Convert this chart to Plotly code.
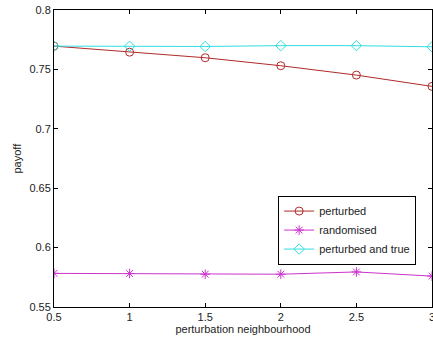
import plotly.graph_objects as go

x_vals = [0.5, 1, 1.5, 2, 2.5, 3]
perturbed = [0.7696, 0.7645, 0.7598, 0.7531, 0.7452, 0.7357]
randomised = [0.5783, 0.5782, 0.5776, 0.5776, 0.5795, 0.5760]
perturbed_true = [0.7696, 0.7695, 0.7693, 0.7700, 0.7700, 0.7690]
x_ticks = [0.5, 1, 1.5, 2, 2.5, 3]
x_tick_labels = ["0.5", "1", "1.5", "2", "2.5", "3"]
y_ticks = [0.55, 0.6, 0.65, 0.7, 0.75, 0.8]
y_tick_labels = ["0.55", "0.6", "0.65", "0.7", "0.75", "0.8"]
y_title = "payoff"

FONT = "Liberation Sans, Arial"
fig = go.Figure()
fig.add_trace(go.Scatter(x=x_vals, y=perturbed, name="perturbed", mode="lines+markers",
                         line=dict(color="#b02a2a", width=1),
                         marker=dict(symbol="circle-open", size=8, color="#b02a2a", line=dict(width=1))))
fig.add_trace(go.Scatter(x=x_vals, y=randomised, name="randomised", mode="lines+markers",
                         line=dict(color="#cc33cc", width=1),
                         marker=dict(symbol="asterisk-open", size=8, color="#cc33cc", line=dict(width=1, color="#cc33cc"))))
fig.add_trace(go.Scatter(x=x_vals, y=perturbed_true, name="perturbed and true", mode="lines+markers",
                         line=dict(color="#33dddd", width=1),
                         marker=dict(symbol="diamond-open", size=8, color="#33dddd", line=dict(width=1))))

axis_common = dict(showgrid=False, zeroline=False, showline=True, linecolor="black", linewidth=1,
                   mirror="ticks", ticks="inside", ticklen=4, tickcolor="black", automargin=False,
                   ticklabeloverflow="allow",
                   tickfont=dict(family=FONT, size=11, color="#222"))
fig.update_xaxes(range=[0.5, 3], tickvals=x_ticks, ticktext=x_tick_labels,
                 title=dict(text="perturbation neighbourhood", font=dict(family=FONT, size=11, color="#222"), standoff=2),
                 **axis_common)
fig.update_yaxes(range=[0.55, 0.8], tickvals=y_ticks, ticktext=y_tick_labels, **axis_common)
fig.add_annotation(text=y_title, xref="paper", yref="paper", x=-0.1005, y=0.5,
                   textangle=-90, showarrow=False, xanchor="center", yanchor="middle",
                   font=dict(family=FONT, size=11, color="#222"))
fig.update_layout(width=433, height=342, margin=dict(l=54, r=1, t=10, b=35, autoexpand=False),
                  plot_bgcolor="white", paper_bgcolor="white",
                  legend=dict(x=0.593, y=0.259, xanchor="left", yanchor="middle",
                              bgcolor="white", bordercolor="black", borderwidth=1,
                              font=dict(family=FONT, size=11, color="#222"),
                              tracegroupgap=0, itemwidth=30))
fig.write_html("out.html", config={"displayModeBar": False},
               post_script="document.body.style.margin='0';document.body.style.overflow='hidden';")
